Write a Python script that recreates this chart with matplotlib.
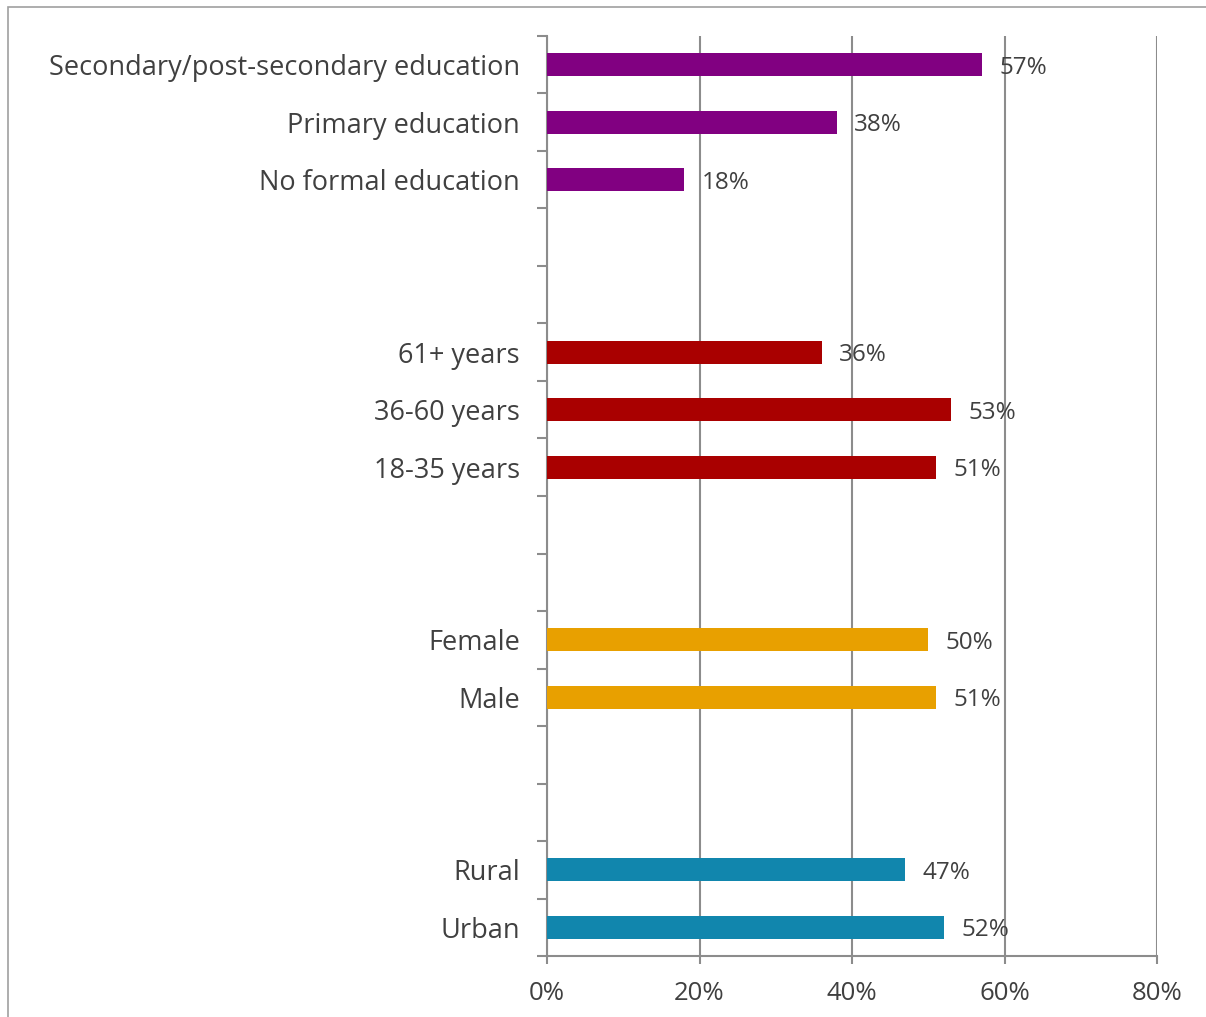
import numpy as np
import matplotlib.pyplot as plt
from matplotlib.ticker import FixedLocator, PercentFormatter

plt.rcParams['font.family'] = ['Open Sans', 'DejaVu Sans']

# Bottom-to-top slots; empty strings are the spacer rows between groups
labels = ['Urban', 'Rural', '', '', 'Male', 'Female', '', '',
          '18-35 years', '36-60 years', '61+ years', '', '',
          'No formal education', 'Primary education',
          'Secondary/post-secondary education']
values = [52, 47, None, None, 51, 50, None, None,
          51, 53, 36, None, None, 18, 38, 57]
groups = ['area', 'area', None, None, 'sex', 'sex', None, None,
          'age', 'age', 'age', None, None, 'edu', 'edu', 'edu']
group_colors = {'edu': '#810081', 'age': '#A90000',
                'sex': '#E8A000', 'area': '#1186AD'}
x_ticks = [0, 20, 40, 60, 80]

text_col = '#404040'
axis_col = '#8C8C8C'

fig = plt.figure(figsize=(12.06, 10.17), dpi=100)
ax = fig.add_axes([547 / 1206, 61 / 1017, 610 / 1206, 920 / 1017])

pos = np.arange(len(labels))
for y, v, g in zip(pos, values, groups):
    if v is None:
        continue
    ax.barh(y, v, height=0.4, color=group_colors[g], zorder=3)
    ax.text(v + 2.3, y - 0.05, f'{v}%', va='center', ha='left',
            fontsize=17.5, color=text_col, zorder=4)

ax.set_ylim(-0.5, len(labels) - 0.5)
ax.set_xlim(0, 80)

# category names at slot centres, tick marks at slot boundaries
ax.set_yticks(pos)
ax.set_yticklabels(labels, fontsize=19.5, color=text_col)
ax.tick_params(axis='y', which='major', length=0, pad=19.5)
ax.yaxis.set_minor_locator(FixedLocator(np.arange(-0.5, len(labels), 1.0)))
ax.tick_params(axis='y', which='minor', length=7, width=1.5, color=axis_col)

ax.set_xticks(x_ticks)
ax.xaxis.set_major_formatter(PercentFormatter(decimals=0))
ax.tick_params(axis='x', length=6, width=1.5, color=axis_col,
               labelsize=18.5, labelcolor=text_col, pad=12)
ax.grid(axis='x', color=axis_col, linewidth=1.5, zorder=0)

for side in ['top', 'right']:
    ax.spines[side].set_visible(False)
for side in ['left', 'bottom']:
    ax.spines[side].set_color(axis_col)
    ax.spines[side].set_linewidth(1.5)

# thin frame (top and left edges) around the chart area
fig.patches.append(plt.Rectangle((8 / 1206, -0.01), 1.01, 1.0 - 7 / 1017 + 0.01,
                                 transform=fig.transFigure, fill=False,
                                 edgecolor='#A0A0A0', linewidth=1.2))

fig.savefig('out.png', dpi=100)
